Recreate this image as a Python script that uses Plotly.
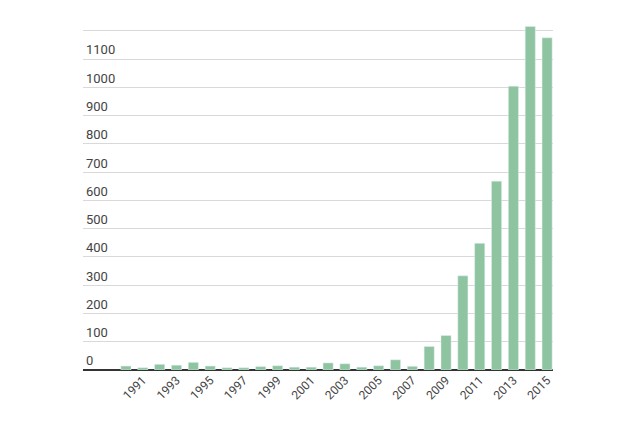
import plotly.graph_objects as go

years = list(range(1990, 2016))
poached = [14, 8, 20, 17, 27, 14, 8, 8, 12, 15, 10, 10, 25, 22, 10, 15, 36, 13, 83, 122, 333, 448, 668, 1004, 1215, 1175]
tick_years = list(range(1991, 2016, 2))

fig = go.Figure()
fig.add_trace(go.Bar(x=years, y=poached, name='Poached Rhinos',
                     marker_color='#8ec5a0', width=0.6, showlegend=False))
fig.add_trace(go.Scatter(x=[None], y=[None], mode='markers', name='Poached Rhinos',
                         marker=dict(color='#8ec5a0', size=16), showlegend=True))

fig.update_layout(
    width=640, height=442,
    margin=dict(l=75, r=95, t=10, b=80, autoexpand=False),
    plot_bgcolor='white', paper_bgcolor='white',
    font=dict(family='Roboto', size=12, color='#444'),
    legend=dict(orientation='h', x=0.5, xanchor='center', y=-0.2, yanchor='top',
                font=dict(family='Roboto', size=12, color='#444')),
)
fig.update_xaxes(range=[1987.45, 2015.35], tickvals=tick_years,
                 ticktext=[str(y) for y in tick_years], tickangle=-45,
                 showgrid=False, showline=False, zeroline=False, ticks='',
                 tickfont=dict(size=12, color='#444'))
fig.update_yaxes(range=[0, 1245], dtick=100, ticklabelposition='inside top',
                 gridcolor='#d9d9d9', zeroline=True, zerolinecolor='#333',
                 zerolinewidth=1.5, showline=False, ticks='',
                 tickfont=dict(size=13, color='#444'))
fig.write_html('out.html')
